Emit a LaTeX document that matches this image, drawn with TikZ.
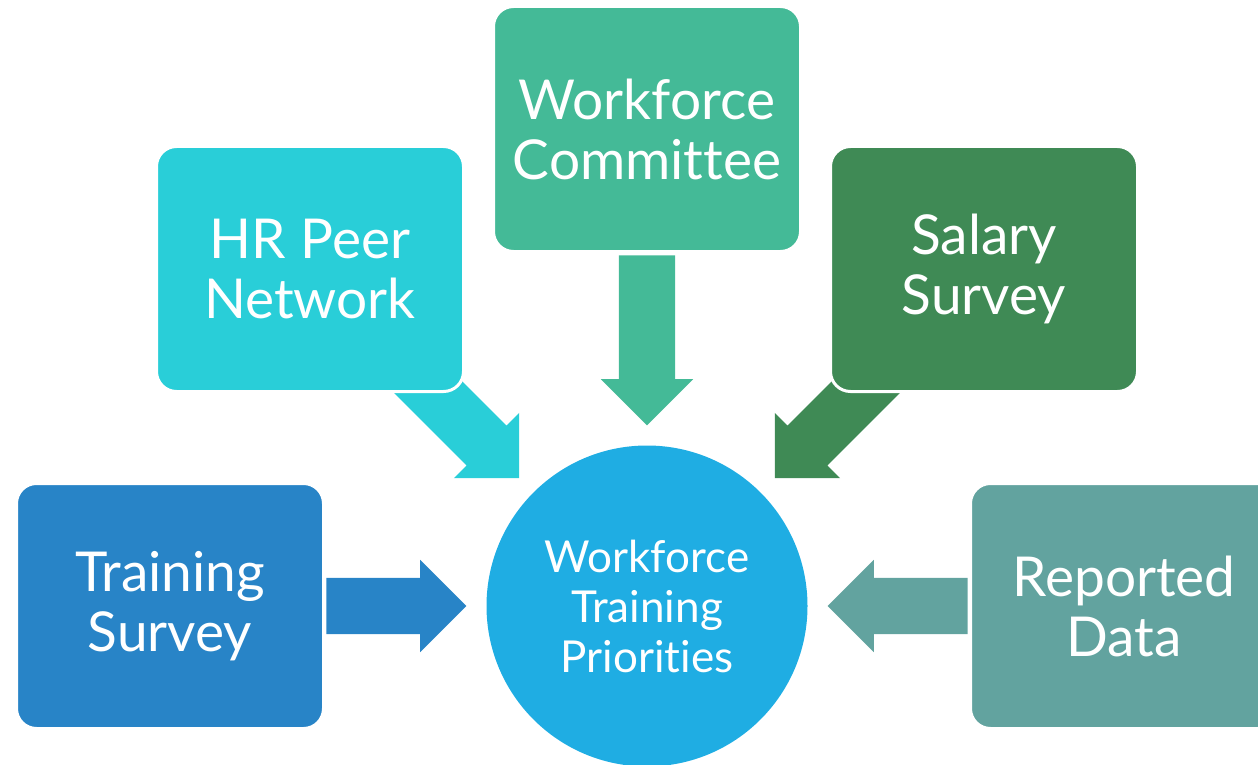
\documentclass[tikz,border=0pt]{standalone}
\usepackage{fontspec}
\setmainfont{Lato}[Ligatures={NoCommon,NoContextual}, Contextuals=NoAlternate]
\usepackage{tikz}
\usetikzlibrary{calc, shapes.arrows, backgrounds}
\definecolor{tscol}{HTML}{2884C7}
\definecolor{hrcol}{HTML}{29CED8}
\definecolor{wccol}{HTML}{44BA97}
\definecolor{sscol}{HTML}{3F8A55}
\definecolor{rdcol}{HTML}{62A39F}
\definecolor{hubcol}{HTML}{1FADE3}
\tikzset{
x=1pt, y=-1pt, % one unit is one pixel of the layout, y runs downwards
source/.style={rectangle, rounded corners=20pt, draw=white, line width=3pt, outer sep=0pt,
  minimum width=307pt, minimum height=245pt, text=white, align=center,
  font=\fontsize{55}{60}\selectfont}, % the five input boxes
hub/.style={circle, fill=hubcol, minimum size=321pt, inner sep=0pt, text=white,
  align=center, font=\fontsize{44}{50}\selectfont}, % the circle in the middle
feed/.style={single arrow, single arrow tip angle=90, single arrow head extend=18pt,
  inner xsep=0pt, inner ysep=28pt, outer sep=0pt, draw=none, anchor=tip}, % the fat block arrows
}

\begin{document}
\begin{tikzpicture}
    \useasboundingbox (0,0) rectangle (1258,765);
    \clip (0,0) rectangle (1258,765);

    \node[hub] (wtp) at (647,606) {Workforce\\Training\\Priorities};
    \node[source, fill=tscol] (tsurvey) at (170,606) {Training\\Survey};
    \node[source, fill=hrcol] (hrpeer) at (310,269) {HR Peer\\Network};
    \node[source, fill=wccol] (wcommittee) at (647,129) {Workforce\\Committee};
    \node[source, fill=sscol] (ssurvey) at (984,269) {Salary\\Survey};
    \node[source, fill=rdcol] (rdata) at (1124,606) {Reported\\Data};

    % block arrows sit under the boxes, tips 20pt off the circle
    \begin{scope}[on background layer]
        \node[feed, fill=tscol, minimum height=140pt] (tsarrow)
            at ($(wtp.west)!-20pt!(wtp.center)$) {};
        \node[feed, fill=hrcol, minimum height=200pt, rotate=-45] (hrarrow)
            at ($(wtp.north west)!-20pt!(wtp.center)$) {};
        \node[feed, fill=wccol, minimum height=170pt, rotate=-90] (wcarrow)
            at ($(wtp.north)!-20pt!(wtp.center)$) {};
        \node[feed, fill=sscol, minimum height=200pt, rotate=-135] (ssarrow)
            at ($(wtp.north east)!-20pt!(wtp.center)$) {};
        \node[feed, fill=rdcol, minimum height=140pt, rotate=180] (rdarrow)
            at ($(wtp.east)!-20pt!(wtp.center)$) {};
    \end{scope}
\end{tikzpicture}
\end{document}
